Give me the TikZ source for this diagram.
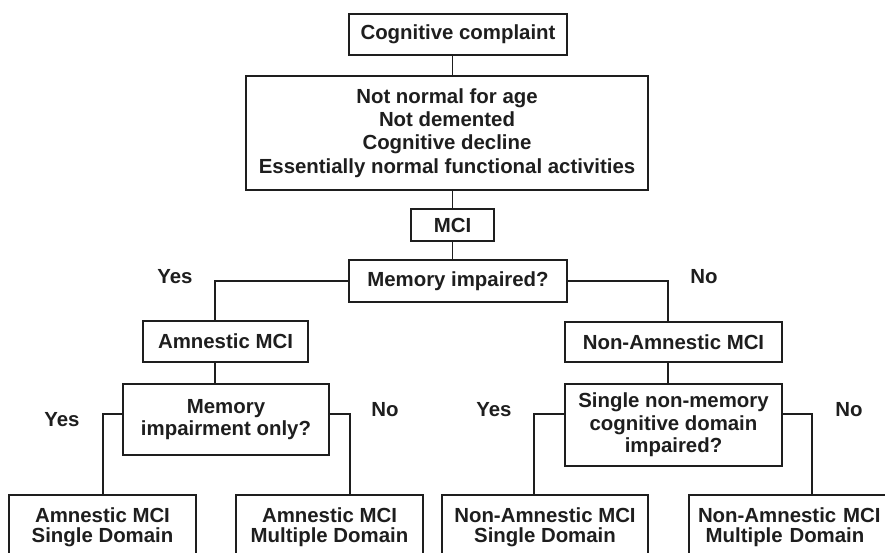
\documentclass[tikz,border=0pt]{standalone}
\usepackage{fontspec}
\setmainfont{Liberation Sans}
\definecolor{ink}{HTML}{1E1E1E}
\begin{document}
\begin{tikzpicture}[x=1pt,y=-1pt,
  txt/.style={font=\bfseries\fontsize{20.4}{22.5}\selectfont, text=ink},
  box/.style={txt, draw=ink, line width=1.3pt, inner sep=0pt, align=center},
  lbl/.style={txt, inner sep=0pt},
  conn/.style={draw=ink, line width=1.3pt}]
\useasboundingbox (0,0) rectangle (885,552);
\clip (0,0) rectangle (885,552);
\fill[white] (0,0) rectangle (885,552);
% nodes
\node[box, minimum width=218, minimum height=41] (cc) at (458,34.5) {Cognitive complaint};
\node[box, minimum width=402, minimum height=114, font=\bfseries\fontsize{20.4}{23.3}\selectfont] (crit) at (447,133)
  {Not normal for age\\Not demented\\Cognitive decline\\Essentially normal functional activities};
\node[box, minimum width=83, minimum height=32] (mci) at (452.5,225) {MCI};
\node[box, minimum width=218, minimum height=42] (mem) at (458,281) {Memory impaired?};
\node[box, minimum width=165, minimum height=41] (amn) at (225.5,341.5) {Amnestic MCI};
\node[box, minimum width=206, minimum height=71] (mio) at (226,419.5) {Memory\\impairment only?};
\node[box, minimum width=217, minimum height=40] (nam) at (673.5,342) {Non-Amnestic MCI};
\node[box, minimum width=217, minimum height=82] (snm) at (673.5,425) {Single non-memory\\cognitive domain\\impaired?};
\node[box, minimum width=187, minimum height=64, font=\bfseries\fontsize{20.4}{20}\selectfont] (ba1) at (102.5,527) {Amnestic MCI\\Single Domain};
\node[box, minimum width=187, minimum height=64, font=\bfseries\fontsize{20.4}{20}\selectfont] (ba2) at (329.5,527) {Amnestic MCI\\Multiple Domain};
\node[box, minimum width=206, minimum height=64, font=\bfseries\fontsize{20.4}{20}\selectfont] (bn1) at (545,527) {Non-Amnestic MCI\\Single Domain};
\node[box, minimum width=220, minimum height=64, font=\bfseries\fontsize{20.4}{20}\selectfont, text width=220, align=left] (bn2) at (799,527) {\hspace*{9pt}Non-Amnestic MCI\\\hspace*{9pt}\makebox[174pt]{Multiple Domain}};
% labels
\node[lbl] (y1) at (175,277) {Yes};
\node[lbl] (n1) at (704,277) {No};
\node[lbl] (y2) at (62,420) {Yes};
\node[lbl] (n2) at (385,410) {No};
\node[lbl] (y3) at (494,410) {Yes};
\node[lbl] (n3) at (849,410) {No};
% helper coordinates
\coordinate (ax) at (215,0);
\coordinate (nx) at (668,0);
\coordinate (ly) at (0,414);
\coordinate (a1x) at (103,0);
\coordinate (a2x) at (350,0);
\coordinate (n1x) at (534,0);
\coordinate (n2x) at (812,0);
% connectors
\draw[conn] (cc.south -| mci.north) -- (crit.north -| mci.north);
\draw[conn] (crit.south -| mci.north) -- (mci.north);
\draw[conn] (mci.south) -- (mci.south |- mem.north);
\draw[conn] (mem.west) -| (ax |- amn.north);
\draw[conn] (amn.south -| ax) -- (mio.north -| ax);
\draw[conn] (mem.east) -| (nx |- nam.north);
\draw[conn] (nam.south -| nx) -- (snm.north -| nx);
\draw[conn] (mio.west |- ly) -| (a1x |- ba1.north);
\draw[conn] (mio.east |- ly) -| (a2x |- ba2.north);
\draw[conn] (snm.west |- ly) -| (n1x |- bn1.north);
\draw[conn] (snm.east |- ly) -| (n2x |- bn2.north);
\end{tikzpicture}
\end{document}
